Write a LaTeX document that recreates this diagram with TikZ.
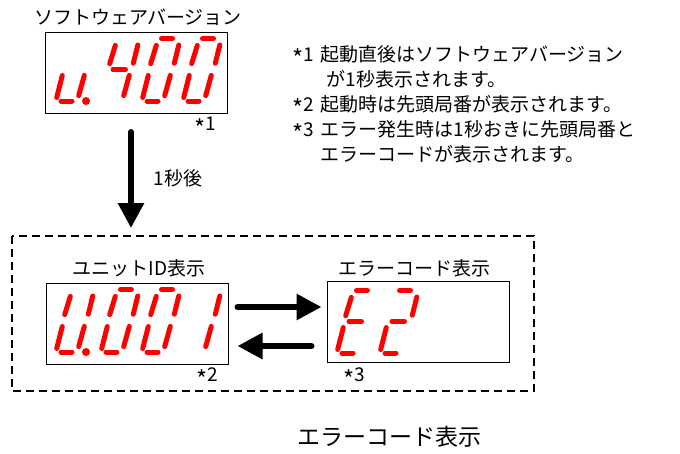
\documentclass[tikz,border=0pt]{standalone}
\usepackage{fontspec}
\setmainfont{Noto Sans CJK JP}
\usetikzlibrary{arrows.meta,calc}

\tikzset{
  panel/.style={draw, line width=1pt, minimum width=182pt, minimum height=81pt, inner sep=0pt},
  seven/.style={red, line width=5pt, line cap=round},
  bigarrow/.style={line width=6pt, line cap=round, -{Triangle[width=25pt,length=25pt]}},
  frame/.style={line width=1.2pt, dash pattern=on 8pt off 5pt}
}

% centred asterisk
\newcommand{\noteast}{\raisebox{-0.36em}{\scalebox{1.25}{*}}}

% seven segment digit: bottom left x, y, list of segments
\newcommand{\segdigit}[3]{%
  \begin{scope}[shift={(#1,#2)}, x=1pt, y=1pt]
    \foreach \s in {#3}{\csname sev\s\endcsname}
  \end{scope}}
\newcommand{\seva}{\draw[seven] (20.5,62.5) -- (31.5,62.5);}
\newcommand{\sevb}{\draw[seven] (33.3,37.8) -- (37.8,56);}
\newcommand{\sevc}{\draw[seven] (23.7,5.4) -- (29.3,25.6);}
\newcommand{\sevd}{\draw[seven] (6,0) -- (17,0);}
\newcommand{\seve}{\draw[seven] (1.7,3.5) -- (7.3,25.5);}
\newcommand{\sevf}{\draw[seven] (9.7,37.4) -- (15.3,55.6);}
\newcommand{\sevg}{\draw[seven] (13,31.5) -- (25.5,31.5);}

\begin{document}
\begin{tikzpicture}[x=1pt, y=-1pt, font=\fontsize{19}{25}\selectfont]
    \useasboundingbox (0,0) rectangle (680,453);

    % Version display
    \node[panel] (verbox) at (136.5,72.5) {};
    \node (vertitle) at (138,17) {ソフトウェアバージョン};
    \node (ast1) at (205,127) {\noteast1};
    \segdigit{55}{101}{c,d,e}
    \fill[red] (86,101) circle (4pt);
    \segdigit{100}{101}{b,c,f,g}
    \segdigit{141}{101}{a,b,c,d,e,f}
    \segdigit{182}{101}{a,b,c,d,e,f}

    % Notes
    \node[anchor=base west, inner sep=0pt] (notes) at (292,61) {%
      \begin{tabular}[t]{@{}l@{\hspace{7pt}}l@{}}
        \noteast1 & 起動直後はソフトウェアバージョン\\
           & \hspace{6pt}が1秒表示されます。\\
        \noteast2 & 起動時は先頭局番が表示されます。\\
        \noteast3 & エラー発生時は1秒おきに先頭局番と\\
           & エラーコードが表示されます。
      \end{tabular}};

    % After one second
    \coordinate (droptop) at (131,132);
    \coordinate (dropend) at (131,228);
    \draw[bigarrow] (droptop) -- (dropend);
    \node (delay) at (178,178) {1秒後};

    % Running frame
    \draw[frame] (12,236) rectangle (534,391);

    % Unit ID display
    \node[panel] (unitbox) at (137,323.5) {};
    \node (unittitle) at (139,268) {ユニットID表示};
    \node (ast2) at (207,378) {\noteast2};
    \segdigit{55}{352}{b,c,d,e,f}
    \fill[red] (86,352) circle (4pt);
    \segdigit{100}{352}{a,b,c,d,e,f}
    \segdigit{141}{352}{a,b,c,d,e,f}
    \segdigit{182}{352}{b,c}

    % Error code display
    \node[panel] (errbox) at (418,322) {};
    \node (errtitle) at (414,268) {エラーコード表示};
    \node (ast3) at (354,378) {\noteast3};
    \segdigit{336}{353}{a,d,e,f,g}
    \segdigit{379}{353}{a,b,d,e,g}

    % Alternation
    \draw[bigarrow] ($(unitbox.east)+(9,-16.5)$) -- ($(errbox.west)+(-5,-15)$);
    \draw[bigarrow] ($(errbox.west)+(-15,24)$) -- ($(unitbox.east)+(9,22.5)$);

    % Caption
    \node[font=\fontsize{23}{27}\selectfont] (caption) at (389,437) {エラーコード表示};

\end{tikzpicture}
\end{document}
